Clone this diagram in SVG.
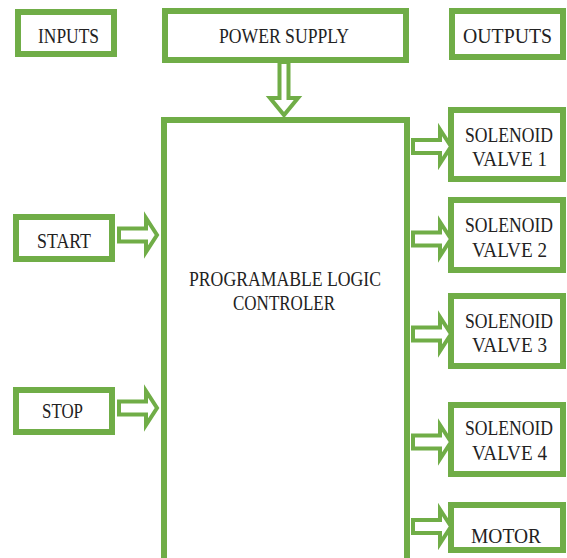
<svg xmlns="http://www.w3.org/2000/svg" width="567" height="558" viewBox="0 0 567 558">
  <style>
    .box { fill: #ffffff; stroke: #70AD47; stroke-width: 6; }
    .arr { fill: #ffffff; stroke: #70AD47; stroke-width: 4; stroke-linejoin: miter; }
    text { font-family: "Liberation Serif", "Times New Roman", serif; font-size: 22px; fill: #222222; text-anchor: middle; }
  </style>
  <defs>
    <path id="arrowR" d="M0,-6.5 H27 V-17 L38,0 L27,17 V6.5 H0 Z"/>
  </defs>
  <rect width="567" height="558" fill="#ffffff"/>

  <g id="inputs">
    <rect class="box" x="18" y="12" width="96" height="42"/>
    <text x="68.5" y="43" textLength="61" lengthAdjust="spacingAndGlyphs">INPUTS</text>
  </g>
  <g id="power-supply">
    <rect class="box" x="165" y="11" width="241" height="49"/>
    <text x="284" y="43" textLength="130" lengthAdjust="spacingAndGlyphs">POWER SUPPLY</text>
  </g>
  <g id="outputs">
    <rect class="box" x="452" y="11" width="111" height="46"/>
    <text x="507.5" y="43" textLength="89" lengthAdjust="spacingAndGlyphs">OUTPUTS</text>
  </g>
  <g id="plc">
    <rect class="box" x="164" y="120" width="243" height="460"/>
    <text x="285" y="286" textLength="192" lengthAdjust="spacingAndGlyphs">PROGRAMABLE LOGIC</text>
    <text x="284" y="310" textLength="102" lengthAdjust="spacingAndGlyphs">CONTROLER</text>
  </g>
  <g id="start">
    <rect class="box" x="16" y="217" width="96" height="42"/>
    <text x="64" y="248" textLength="54" lengthAdjust="spacingAndGlyphs">START</text>
  </g>
  <g id="stop">
    <rect class="box" x="16" y="390" width="96" height="42"/>
    <text x="62.5" y="418" textLength="41" lengthAdjust="spacingAndGlyphs">STOP</text>
  </g>
  <g id="valve1">
    <rect class="box" x="451" y="110" width="112" height="69"/>
    <text x="509" y="142" textLength="88" lengthAdjust="spacingAndGlyphs">SOLENOID</text>
    <text x="509.5" y="166" textLength="75" lengthAdjust="spacingAndGlyphs">VALVE 1</text>
  </g>
  <g id="valve2">
    <rect class="box" x="451" y="200" width="112" height="70"/>
    <text x="509" y="232" textLength="88" lengthAdjust="spacingAndGlyphs">SOLENOID</text>
    <text x="509.5" y="257" textLength="75" lengthAdjust="spacingAndGlyphs">VALVE 2</text>
  </g>
  <g id="valve3">
    <rect class="box" x="451" y="296" width="112" height="70"/>
    <text x="509" y="328" textLength="88" lengthAdjust="spacingAndGlyphs">SOLENOID</text>
    <text x="509.5" y="352" textLength="75" lengthAdjust="spacingAndGlyphs">VALVE 3</text>
  </g>
  <g id="valve4">
    <rect class="box" x="451" y="405" width="112" height="69"/>
    <text x="509" y="435" textLength="88" lengthAdjust="spacingAndGlyphs">SOLENOID</text>
    <text x="509.5" y="460" textLength="75" lengthAdjust="spacingAndGlyphs">VALVE 4</text>
  </g>
  <g id="motor">
    <rect class="box" x="451" y="505" width="112" height="45"/>
    <text x="506" y="543" textLength="70" lengthAdjust="spacingAndGlyphs">MOTOR</text>
  </g>

  <g id="connectors">
    <path class="arr" d="M279.5,62 H288.5 V98 H298 L284,115 L270,98 H279.5 Z"/>
    <use href="#arrowR" class="arr" transform="translate(119,235)"/>
    <use href="#arrowR" class="arr" transform="translate(119,408)"/>
    <use href="#arrowR" class="arr" transform="translate(413,146.5)"/>
    <use href="#arrowR" class="arr" transform="translate(413,239)"/>
    <use href="#arrowR" class="arr" transform="translate(413,334)"/>
    <use href="#arrowR" class="arr" transform="translate(413,442)"/>
    <use href="#arrowR" class="arr" transform="translate(413,526.5)"/>
  </g>
</svg>
